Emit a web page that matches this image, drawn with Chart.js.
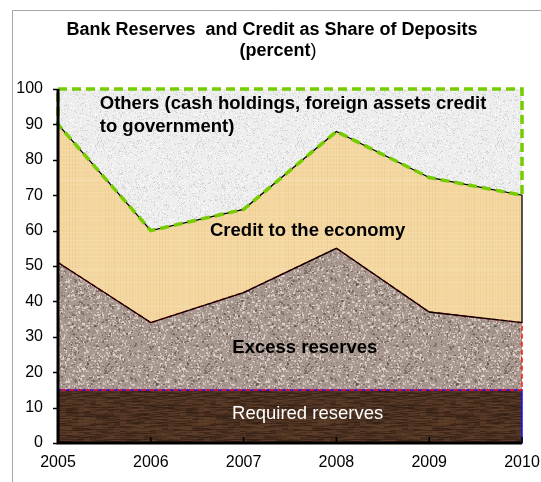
<!DOCTYPE html>
<html>
<head>
<meta charset="utf-8">
<script src="https://cdn.jsdelivr.net/npm/chart.js@4.4.0/dist/chart.umd.min.js"></script>
<style>
  body { margin: 0; background: #fff; }
  #wrap { width: 541px; height: 482px; position: relative; }
</style>
</head>
<body>
<div id="wrap"><canvas id="myChart" width="541" height="482"></canvas></div>
<script>
// data (percent of deposits, stacked)
const years = ['2005', '2006', '2007', '2008', '2009', '2010'];
const requiredReserves = [15, 15, 15, 15, 15, 15];
const excessReserves = [36, 19, 27.5, 40, 22, 19];
const creditEconomy = [39, 26, 23.5, 33, 38, 36];
const others = [10, 40, 34, 12, 25, 30];
const yTicks = [0, 10, 20, 30, 40, 50, 60, 70, 80, 90, 100];

const FONT = '"Liberation Sans", Arial, sans-serif';

// small seeded generator, only used for the textures
let seed = 7;
function rnd() {
    seed = (seed * 16807) % 2147483647;
    return (seed - 1) / 2147483646;
}

function makePattern(w, h, painter) {
    const c = document.createElement('canvas');
    c.width = w;
    c.height = h;
    const g = c.getContext('2d');
    painter(g, w, h);
    return document.getElementById('myChart').getContext('2d').createPattern(c, 'repeat');
}

// dark wood
const woodPattern = makePattern(120, 60, function (g, w, h) {
    g.fillStyle = '#4b3020';
    g.fillRect(0, 0, w, h);
    for (let y = 0; y < h; y++) {
        for (let x = 0; x < w; x += 6) {
            const v = rnd();
            g.fillStyle = v > 0.5 ? 'rgba(110,75,50,' + (v * 0.35) + ')' : 'rgba(30,18,10,' + ((1 - v) * 0.3) + ')';
            g.fillRect(x, y, 6 + Math.floor(rnd() * 10), 1);
        }
    }
});

// granite speckle
const granitePattern = makePattern(100, 100, function (g, w, h) {
    g.fillStyle = '#aa9991';
    g.fillRect(0, 0, w, h);
    for (let i = 0; i < 2400; i++) {
        const v = rnd();
        if (v < 0.22) g.fillStyle = 'rgba(90,75,68,0.55)';
        else if (v < 0.62) g.fillStyle = 'rgba(228,220,214,0.7)';
        else g.fillStyle = 'rgba(152,135,127,0.7)';
        g.fillRect(Math.floor(rnd() * w), Math.floor(rnd() * h), 1 + Math.floor(rnd() * 2), 1 + Math.floor(rnd() * 2));
    }
});

// parchment
const parchmentPattern = makePattern(90, 90, function (g, w, h) {
    g.fillStyle = '#f4d7a0';
    g.fillRect(0, 0, w, h);
    for (let x = 0; x < w; x += 3) {
        g.fillStyle = 'rgba(215,180,110,' + (rnd() * 0.25) + ')';
        g.fillRect(x, 0, 1, h);
    }
    for (let y = 0; y < h; y += 4) {
        g.fillStyle = 'rgba(255,240,210,' + (rnd() * 0.3) + ')';
        g.fillRect(0, y, w, 1);
    }
});

// light grey stipple
const stipplePattern = makePattern(100, 100, function (g, w, h) {
    g.fillStyle = '#ededed';
    g.fillRect(0, 0, w, h);
    for (let i = 0; i < 1800; i++) {
        const v = rnd();
        g.fillStyle = v < 0.5 ? 'rgba(195,195,195,0.7)' : 'rgba(255,255,255,0.9)';
        g.fillRect(Math.floor(rnd() * w), Math.floor(rnd() * h), 1, 1);
    }
});

const outlines = [
    { color: '#1010ff', width: 1.5, dash: [] },
    { color: '#ff1010', width: 1.5, dash: [5, 3] },
    { color: '#000000', width: 1.3, dash: [] },
    { color: '#77cc00', width: 3.5, dash: [9, 5] }
];

const areaLabels = [
    { text: 'Others (cash holdings, foreign assets credit', x: 0.45, y: 95.8, align: 'left', bold: true, color: '#000' },
    { text: 'to government)', x: 0.45, y: 89.3, align: 'left', bold: true, color: '#000' },
    { text: 'Credit to the economy', x: 2.69, y: 60, align: 'center', bold: true, color: '#000' },
    { text: 'Excess reserves', x: 2.66, y: 27, align: 'center', bold: true, color: '#000' },
    { text: 'Required reserves', x: 2.69, y: 8.2, align: 'center', bold: false, color: '#fff' }
];

const decorPlugin = {
    id: 'decor',
    afterDatasetsDraw(chart) {
        const ctx = chart.ctx;
        const xs = chart.scales.x;
        const ys = chart.scales.y;
        const sets = chart.data.datasets;
        let base = years.map(() => 0);

        // outline every stacked band
        sets.forEach(function (ds, i) {
            const top = ds.data.map((v, j) => base[j] + v);
            const o = outlines[i];
            ctx.save();
            ctx.beginPath();
            top.forEach(function (v, j) {
                const px = xs.getPixelForValue(j);
                const py = ys.getPixelForValue(v);
                if (j === 0) ctx.moveTo(px, py); else ctx.lineTo(px, py);
            });
            for (let j = base.length - 1; j >= 0; j--) {
                ctx.lineTo(xs.getPixelForValue(j), ys.getPixelForValue(base[j]));
            }
            ctx.closePath();
            ctx.strokeStyle = o.color;
            ctx.lineWidth = o.width;
            ctx.setLineDash(o.dash);
            ctx.stroke();
            ctx.restore();
            base = top;
        });

        // axes
        const a = chart.chartArea;
        ctx.save();
        ctx.strokeStyle = '#000';
        ctx.lineWidth = 3;
        ctx.beginPath();
        ctx.moveTo(a.left, a.top);
        ctx.lineTo(a.left, a.bottom);
        ctx.lineTo(a.right, a.bottom);
        ctx.stroke();
        ctx.lineWidth = 1.5;
        yTicks.forEach(function (t) {
            const py = Math.round(ys.getPixelForValue(t)) + 0.5;
            ctx.beginPath();
            ctx.moveTo(a.left - 5, py);
            ctx.lineTo(a.left, py);
            ctx.stroke();
        });
        years.forEach(function (y, j) {
            const px = xs.getPixelForValue(j);
            ctx.beginPath();
            ctx.moveTo(px, a.bottom);
            ctx.lineTo(px, a.bottom - 6);
            ctx.stroke();
        });
        ctx.restore();

        // labels in the bands
        ctx.save();
        ctx.textBaseline = 'middle';
        areaLabels.forEach(function (l) {
            ctx.font = (l.bold ? 'bold ' : '') + '18.5px ' + FONT;
            ctx.fillStyle = l.color;
            ctx.textAlign = l.align;
            ctx.fillText(l.text, xs.getPixelForValue(l.x), ys.getPixelForValue(l.y));
        });
        ctx.restore();
    },
    afterDraw(chart) {
        const ctx = chart.ctx;
        ctx.save();
        // grey frame
        ctx.strokeStyle = '#a6a6a6';
        ctx.lineWidth = 1;
        ctx.beginPath();
        ctx.moveTo(12.5, 482);
        ctx.lineTo(12.5, 10.5);
        ctx.lineTo(541, 10.5);
        ctx.stroke();
        // title
        ctx.fillStyle = '#000';
        ctx.textBaseline = 'middle';
        ctx.textAlign = 'center';
        ctx.font = 'bold 18px ' + FONT;
        ctx.fillText('Bank Reserves  and Credit as Share of Deposits', 272, 30);
        const p1 = '(percent';
        const w1 = ctx.measureText(p1).width;
        ctx.font = '18px ' + FONT;
        const w2 = ctx.measureText(')').width;
        const start = 278 - (w1 + w2) / 2;
        ctx.textAlign = 'left';
        ctx.font = 'bold 18px ' + FONT;
        ctx.fillText(p1, start, 51);
        ctx.font = '18px ' + FONT;
        ctx.fillText(')', start + w1, 51);
        ctx.restore();
    }
};

function band(label, data, bg, fill) {
    return {
        label: label,
        data: data,
        backgroundColor: bg,
        borderWidth: 0,
        pointRadius: 0,
        tension: 0,
        fill: fill
    };
}

const ctx = document.getElementById('myChart').getContext('2d');
const myChart = new Chart(ctx, {
    type: 'line',
    data: {
        labels: years,
        datasets: [
            band('Required reserves', requiredReserves, woodPattern, 'origin'),
            band('Excess reserves', excessReserves, granitePattern, '-1'),
            band('Credit to the economy', creditEconomy, parchmentPattern, '-1'),
            band('Others', others, stipplePattern, '-1')
        ]
    },
    options: {
        responsive: false,
        animation: false,
        layout: { padding: { top: 89, right: 19, left: 0, bottom: 0 } },
        plugins: {
            legend: { display: false },
            tooltip: { enabled: false }
        },
        scales: {
            x: {
                offset: false,
                grid: { display: false, drawTicks: false },
                border: { display: false },
                ticks: {
                    color: '#000',
                    padding: 10,
                    maxRotation: 0,
                    font: { size: 16, family: FONT }
                },
                afterFit: function (s) {
                    s.height = 39;
                    s.paddingLeft = 0;
                    s.paddingRight = 0;
                }
            },
            y: {
                stacked: true,
                min: 0,
                max: 100,
                grid: { display: false, drawTicks: false },
                border: { display: false },
                ticks: {
                    stepSize: 10,
                    color: '#000',
                    padding: 15,
                    font: { size: 16, family: FONT }
                },
                afterFit: function (s) {
                    s.width = 58;
                    s.paddingTop = 0;
                    s.paddingBottom = 0;
                }
            }
        }
    },
    plugins: [decorPlugin]
});
</script>
</body>
</html>
